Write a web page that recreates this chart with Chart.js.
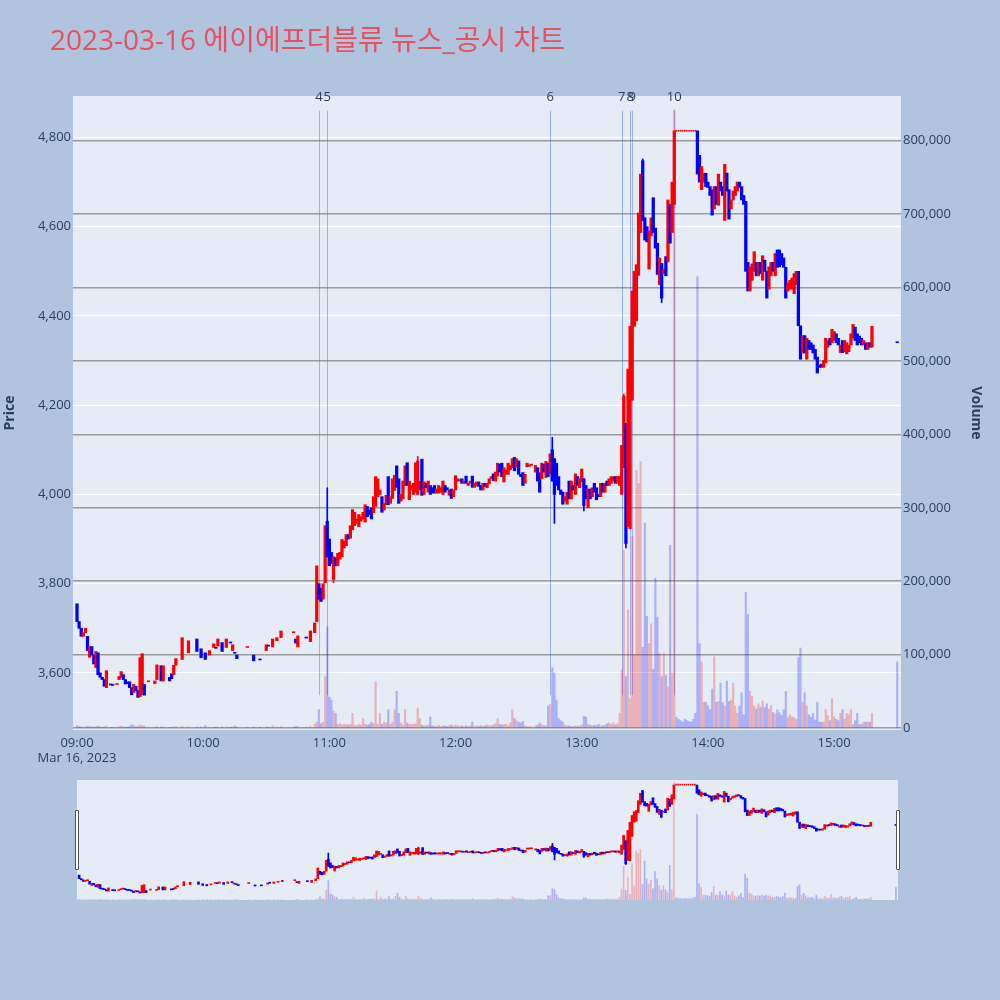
<!DOCTYPE html>
<html lang="ko">
<head>
<meta charset="utf-8">
<title>에이에프더블류 뉴스_공시 차트</title>
<script src="https://cdn.jsdelivr.net/npm/chart.js@4.4.1/dist/chart.umd.min.js"></script>
<style>
  html, body { margin: 0; padding: 0; background: #b0c4de; }
  #wrap { position: relative; width: 1000px; height: 1000px; overflow: hidden; }
  #title { position: absolute; left: 50px; top: 25px; font: 28px/28px "Open Sans", "Noto Sans CJK KR", sans-serif; color: #e9505f; white-space: nowrap; }
  #main { position: absolute; left: 0; top: 0; }
  #mini { position: absolute; left: 77px; top: 780px; }
  .handle { position: absolute; top: 810px; width: 2px; height: 58px; background: #fff; border: 1px solid #555; border-radius: 1px; }
</style>
</head>
<body>
<div id="wrap">
  <canvas id="main" width="1000" height="770"></canvas>
  <canvas id="mini" width="821" height="120"></canvas>
  <div class="handle" style="left:75px"></div>
  <div class="handle" style="left:896px"></div>
  <div id="title">2023-03-16 에이에프더블류 뉴스_공시 차트</div>
</div>
<script>
// 1분봉 시가 / 종가 (index = 09:00 부터 지난 분, null = 체결 없음)
const opens = [
  3755,3715,3700,3682,3690,3682,3635,3659,3640,3612,
  3645,3600,3590,3585,3567,null,3575,3573,null,3574,
  3585,3590,3596,3585,3580,3580,3567,3556,3570,3560,
  3547,3551,3574,null,3580,null,null,3576,3585,null,
  3616,3582,null,null,3590,3598,3596,3617,null,null,
  3630,null,null,3645,null,null,null,3676,null,3654,
  null,3645,null,3640,null,3657,3656,3660,null,3668,
  null,3657,null,3668,3650,3646,3640,null,null,null,
  null,3657,null,null,3640,null,null,3630,null,null,
  3650,3661,null,3658,null,3672,null,3679,null,null,
  null,null,null,3690,3676,3658,null,null,null,3680,
  null,3670,null,3690,3715,3800,3790,3765,3802,3940,
  3900,3870,3810,3858,3840,3855,3860,3880,3885,3910,
  3902,3921,3930,3935,3928,3940,3945,3938,3973,3965,
  3970,3959,3973,3995,4000,3995,3965,3977,4040,3980,
  3991,4009,4064,4035,3985,3990,4020,4071,3988,4010,
  4000,4005,4000,4010,4079,4000,4025,4005,4020,4015,
  4020,4003,4003,4005,4000,4020,4015,3998,4012,3995,
  4010,4030,4030,4035,4025,4041,4020,4025,4041,4016,
  4020,4028,4020,4010,4025,4015,4024,4035,4046,4030,
  4041,4068,4070,4028,4045,4045,4055,4060,4083,4060,
  4075,4045,4049,4025,4062,4063,4065,null,4050,4060,
  4049,4035,4068,4038,4070,4046,4100,4080,4070,4040,
  4010,4005,3985,3978,4030,3990,4020,4000,4040,4015,
  4028,4035,4020,3970,4012,3995,4025,4015,4000,3995,
  4025,4005,4030,4020,4025,4030,4040,4025,4020,4000,
  4060,4159,3928,3923,4211,4377,4389,4491,4587,4748,
  4620,4600,4505,4580,4665,4597,4563,4470,4518,4495,
  4533,4521,4650,4587,4650,4815,4815,4815,4815,4815,
  4815,4815,4815,4815,4815,4815,4760,4683,4700,4720,
  4700,4690,4683,4640,4690,4648,4700,4690,4614,4720,
  4683,4640,4660,4670,4680,4700,4690,4670,4657,4520,
  4456,4480,4500,4520,4490,4520,4480,4525,4500,4460,
  4490,4520,4490,4548,4548,4540,4530,4509,4456,4460,
  4460,4450,4470,4500,4378,4317,4356,4303,4345,4340,
  4335,4325,4308,4290,4292,4285,4295,4330,4350,4340,
  4345,4360,4350,4318,4345,4320,4315,4320,4335,4350,
  4375,4360,4355,4350,4335,4340,4325,4340,4330,null,
  null,null,null,null,null,null,null,null,null,null,
  4342
];
const closes = [
  3715,3700,3682,3690,3700,3650,3659,3640,3620,3648,
  3596,3590,3585,3570,3605,null,3573,3572,null,3576,
  3592,3603,3585,3575,3576,3567,3551,3574,3560,3545,
  3634,3643,3550,null,3581,null,null,3582,3618,null,
  3582,3616,null,null,3582,3587,3617,3632,null,null,
  3679,null,null,3672,null,null,null,3648,null,3634,
  null,3630,null,3650,null,3665,3655,3676,null,3648,
  null,3676,null,3667,3663,3644,3632,null,null,null,
  null,3658,null,null,3627,null,null,3629,null,null,
  3663,3660,null,3676,null,3679,null,3694,null,null,
  null,null,null,3691,3667,3683,null,null,null,3678,
  null,3694,null,3712,3840,3765,3760,3800,3930,3860,
  3840,3845,3860,3840,3868,3870,3899,3895,3910,3900,
  3930,3966,3960,3945,3955,3950,3960,3977,3950,3955,
  3945,3995,4040,4035,4010,3960,3980,3998,3977,3995,
  4035,4043,4016,3980,4000,4030,4064,4020,4030,4020,
  4025,4071,4075,4030,3998,4028,4015,4030,4000,4003,
  4003,4012,4020,4015,4030,4005,4010,4010,3991,4010,
  4042,4035,4033,4025,4030,4025,4025,4030,4016,4025,
  4028,4018,4010,4025,4018,4025,4035,4040,4031,4050,
  4070,4050,4040,4060,4055,4070,4065,4080,4053,4080,
  4045,4040,4020,4045,4070,4066,4068,null,4065,4030,
  4005,4070,4050,4074,4040,4091,4030,4000,4020,4010,
  4000,3978,3995,4005,3990,4030,4010,4046,4020,4035,
  4057,3975,3990,4012,3990,4015,4005,3988,3995,4025,
  4005,4025,4020,4035,4040,4040,4025,4040,4040,4110,
  4220,3890,4281,4377,4456,4500,4515,4631,4718,4614,
  4570,4566,4590,4620,4587,4552,4493,4530,4440,4505,
  4490,4660,4563,4700,4815,4815,4815,4815,4815,4815,
  4815,4815,4815,4815,4815,4718,4700,4735,4720,4690,
  4688,4670,4626,4690,4650,4718,4680,4670,4740,4680,
  4617,4660,4680,4690,4700,4688,4660,4650,4500,4456,
  4510,4517,4544,4490,4520,4495,4535,4500,4440,4510,
  4520,4500,4540,4509,4510,4515,4509,4440,4474,4480,
  4485,4495,4500,4378,4303,4356,4317,4350,4325,4325,
  4317,4303,4272,4285,4285,4300,4350,4345,4335,4370,
  4365,4340,4335,4335,4318,4345,4340,4335,4360,4381,
  4345,4335,4340,4335,4345,4325,4340,4330,4377,null,
  null,null,null,null,null,null,null,null,null,null,
  4340
];
const volumes = [
  3000,2000,1500,1000,1500,2500,2000,1500,1000,2000,
  2500,1500,1000,1500,3000,null,1000,1000,null,1000,
  2000,2500,1500,1000,1500,2000,4500,3500,1500,2000,
  4000,3000,2500,null,1000,null,null,1000,2000,null,
  1500,1500,null,null,1000,1000,1500,2000,null,null,
  2500,null,null,2000,null,null,null,1500,null,1500,
  null,3500,null,1000,null,1000,500,1500,null,1500,
  null,1500,null,500,1500,3000,1500,null,null,null,
  null,500,null,null,1500,null,null,500,null,null,
  1500,500,null,3000,null,1500,null,2000,null,null,
  null,null,null,500,2500,2000,null,null,null,1000,
  null,2000,null,5000,8000,25000,6000,8000,70000,138000,
  42000,38000,23000,20000,5000,6000,4000,5000,5000,4000,
  5000,20000,4000,3000,5000,4000,13000,5000,4000,5000,
  8000,6000,63000,5000,20000,5000,8000,7000,25000,5000,
  8000,25000,50000,20000,7000,4000,25000,7000,5000,5000,
  5000,6000,27000,13000,4000,3000,3000,4000,15000,3000,
  2000,2000,4000,2000,3000,3000,2000,3000,4000,2000,
  4000,3000,2000,3000,2000,3000,2000,3000,8000,2000,
  3000,2000,3000,2000,3000,4000,3000,3000,4000,6000,
  13000,5000,4000,5000,5000,3000,7000,25000,13000,10000,
  8000,7000,9000,3000,2000,2000,2000,null,3000,4000,
  7000,5000,3000,3000,30000,32000,82000,75000,38000,13000,
  10000,8000,4000,3000,3000,2000,2000,3000,2000,3000,
  4000,16000,15000,5000,4000,3000,4000,3000,5000,3000,
  3000,4000,6000,7000,5000,7000,4000,6000,20000,79000,
  242000,70000,161000,40000,261000,100000,351000,333000,363000,110000,
  279000,152000,115000,142000,80000,204000,151000,102000,70000,102000,
  72000,56000,249000,75000,842000,15000,12000,10000,8000,12000,
  10000,9000,8000,12000,20000,615000,115000,90000,35000,35000,
  30000,25000,53000,97000,35000,36000,61000,35000,30000,64000,
  36000,38000,61000,30000,20000,30000,48000,18000,185000,155000,
  50000,43000,30000,26000,33000,28000,37000,28000,33000,26000,
  31000,21000,19000,25000,21000,17000,25000,50000,14000,18000,
  15000,14000,12000,96000,109000,35000,48000,30000,18000,15000,
  20000,11000,35000,8000,8000,8000,25000,17000,10000,40000,
  15000,12000,10000,20000,25000,12000,20000,18000,25000,5000,
  10000,20000,5000,5000,8000,8000,8000,8000,20000,null,
  null,null,null,null,null,null,null,null,null,null,
  90000
];

// 꼬리가 몸통 밖으로 길게 나온 봉
const wickMinutes = [119, 122, 162, 226, 227, 241, 260, 261, 269, 278];
const wickHighs   = [4015, 3860, 4085, 4128, 4080, 4035, 4225, 4159, 4752, 4518];
const wickLows    = [3860, 3802, 4000, 4030, 3935, 3963, 4060, 3880, 4614, 4430];

// 뉴스/공시 시각 (분) 과 번호
const newsMinutes = [115, 119, 225, 259, 263, 264, 284];
const newsLabels  = ['4', '5', '6', '7', '8', '9', '10'];

const hourLabels  = ['09:00', '10:00', '11:00', '12:00', '13:00', '14:00', '15:00'];
const dateLabel   = 'Mar 16, 2023';
const priceTicks  = [3600, 3800, 4000, 4200, 4400, 4600, 4800];
const volumeTicks = [0, 100000, 200000, 300000, 400000, 500000, 600000, 700000, 800000];

const RED = '#ff0000', BLUE = '#0000ff';
const VRED = 'rgba(255,0,0,0.25)', VBLUE = 'rgba(0,0,255,0.25)';
const TXT = '#2a3f5f';

Chart.defaults.font.family = '"Open Sans", sans-serif';

function buildDatasets(bodyW, wickW, volW) {
  const bodies = [], bodyColors = [], flats = [], flatColors = [];
  const vols = [], volColors = [], wicks = [], wickColors = [];
  for (let i = 0; i < opens.length; i++) {
    if (opens[i] === null) continue;
    const up = closes[i] >= opens[i];
    if (closes[i] === opens[i]) {
      // 시가 = 종가 (상한가 구간 점선처럼 보이는 봉)
      flats.push({ x: i, y: [opens[i] - 1, closes[i] + 1] });
      flatColors.push(RED);
    } else {
      bodies.push({ x: i, y: [opens[i], closes[i]] });
      bodyColors.push(up ? RED : BLUE);
    }
    vols.push({ x: i, y: volumes[i] });
    volColors.push(closes[i] > opens[i] ? VRED : VBLUE);
  }
  wickMinutes.forEach((m, k) => {
    wicks.push({ x: m, y: [wickLows[k], wickHighs[k]] });
    wickColors.push(closes[m] >= opens[m] ? RED : BLUE);
  });
  return [
    { label: 'Volume', data: vols, yAxisID: 'yv', backgroundColor: volColors,
      barThickness: volW, grouped: false, order: 3 },
    { label: 'Wick', data: wicks, yAxisID: 'y', backgroundColor: wickColors,
      barThickness: wickW, grouped: false, order: 2 },
    { label: 'Flat', data: flats, yAxisID: 'y', backgroundColor: flatColors,
      barThickness: wickW, minBarLength: 1, grouped: false, order: 1 },
    { label: 'Price', data: bodies, yAxisID: 'y', backgroundColor: bodyColors,
      barThickness: bodyW, minBarLength: 1, grouped: false, order: 0 }
  ];
}

const plotBg = {
  id: 'plotBg',
  beforeDraw(chart) {
    const a = chart.chartArea, ctx = chart.ctx;
    ctx.save();
    ctx.fillStyle = '#e5ecf6';
    ctx.fillRect(a.left, a.top, a.right - a.left, a.bottom - a.top);
    ctx.restore();
  }
};

const newsLines = {
  id: 'newsLines',
  beforeDatasetsDraw(chart) {
    const { ctx, scales: { x, y } } = chart;
    ctx.save();
    ctx.strokeStyle = 'rgba(70,100,235,0.45)';
    ctx.lineWidth = 1;
    newsMinutes.forEach(m => {
      const px = Math.round(x.getPixelForValue(m)) + 0.5;
      ctx.beginPath();
      ctx.moveTo(px, y.getPixelForValue(4860));
      ctx.lineTo(px, y.getPixelForValue(3550));
      ctx.stroke();
    });
    ctx.restore();
  },
  afterDraw(chart) {
    const { ctx, scales: { x } } = chart;
    ctx.save();
    ctx.fillStyle = TXT;
    ctx.font = '13px "Open Sans", sans-serif';
    ctx.textAlign = 'center';
    ctx.textBaseline = 'middle';
    newsMinutes.forEach((m, k) => {
      ctx.fillText(newsLabels[k], x.getPixelForValue(m), 97);
    });
    ctx.restore();
  }
};

new Chart(document.getElementById('main'), {
  type: 'bar',
  data: { datasets: buildDatasets(2.6, 1, 1.5) },
  options: {
    responsive: false,
    animation: false,
    devicePixelRatio: 1,
    layout: { padding: { top: 96, left: 0, right: 0, bottom: 0 } },
    plugins: { legend: { display: false }, tooltip: { enabled: false } },
    scales: {
      x: {
        type: 'linear', min: -1.9, max: 391.8, offset: false,
        grid: { display: false, drawTicks: false },
        border: { display: false },
        afterBuildTicks: axis => { axis.ticks = hourLabels.map((_, i) => ({ value: i * 60 })); },
        afterFit: s => { s.height = 40; },
        ticks: {
          autoSkip: false, maxRotation: 0, padding: 5,
          color: TXT, font: { size: 13 },
          callback: v => (v === 0 ? [hourLabels[0], dateLabel] : hourLabels[v / 60])
        }
      },
      y: {
        position: 'left', min: 3472, max: 4893,
        grid: { color: '#ffffff', lineWidth: 1, drawTicks: false },
        border: { display: false },
        afterBuildTicks: axis => { axis.ticks = priceTicks.map(v => ({ value: v })); },
        afterFit: s => { s.width = 73; },
        ticks: { padding: 2, color: TXT, font: { size: 13 },
          callback: v => v.toLocaleString('en-US') },
        title: { display: true, text: 'Price', color: TXT,
          font: { size: 14, weight: 'bold' }, padding: 2 }
      },
      yv: {
        position: 'right', min: -2700, max: 861000,
        grid: { color: '#9b9b9b', lineWidth: 1.5, drawTicks: false },
        border: { display: false },
        afterBuildTicks: axis => { axis.ticks = volumeTicks.map(v => ({ value: v })); },
        afterFit: s => { s.width = 99; },
        ticks: { padding: 2, color: TXT, font: { size: 13 },
          callback: v => v.toLocaleString('en-US') },
        title: { display: true, text: 'Volume', color: TXT,
          font: { size: 14, weight: 'bold' }, padding: 16 }
      }
    }
  },
  plugins: [plotBg, newsLines]
});

// 하단 범위 슬라이더 미니 차트
new Chart(document.getElementById('mini'), {
  type: 'bar',
  data: { datasets: buildDatasets(2, 1, 1) },
  options: {
    responsive: false,
    animation: false,
    devicePixelRatio: 1,
    plugins: { legend: { display: false }, tooltip: { enabled: false } },
    scales: {
      x: { type: 'linear', min: -1, max: 391, offset: false, display: false },
      y: { min: 3463, max: 4874, display: false },
      yv: { min: 0, max: 860000, display: false }
    }
  },
  plugins: [plotBg]
});
</script>
</body>
</html>
